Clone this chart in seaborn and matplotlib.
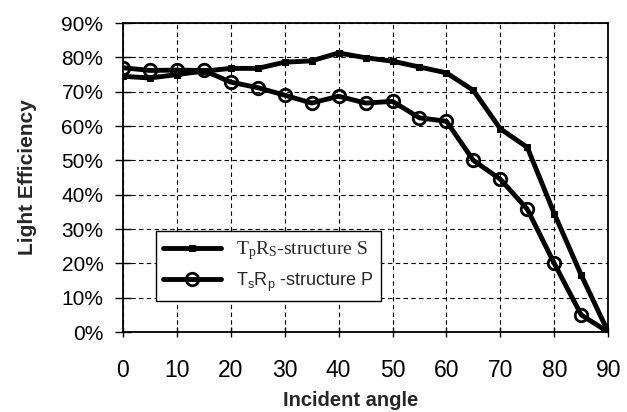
import matplotlib
matplotlib.use("Agg")
import matplotlib.pyplot as plt
import seaborn as sns
import pandas as pd
from matplotlib.ticker import PercentFormatter

# Data
angles = [0, 5, 10, 15, 20, 25, 30, 35, 40, 45, 50, 55, 60, 65, 70, 75, 80, 85, 90]
structure_s = [74.5, 74.0, 75.0, 76.0, 76.8, 76.8, 78.6, 79.0, 81.3, 79.9, 78.9, 77.2, 75.5, 70.4, 59.2, 53.8, 34.5, 16.6, 0.0]
structure_p = [77.0, 76.2, 76.3, 76.2, 72.8, 71.2, 69.0, 66.7, 68.7, 66.7, 67.2, 62.4, 61.4, 50.0, 44.5, 35.8, 20.0, 5.0, 0.0]
label_s = r"$\mathregular{T_pR_S}$-structure S"
label_p = r"$\mathregular{T_sR_p}$ -structure P"
x_ticks = list(range(0, 91, 10))
y_ticks = list(range(0, 91, 10))

sns.set_theme(style="white")
plt.rcParams["font.family"] = ["Liberation Sans", "DejaVu Sans"]

fig = plt.figure(figsize=(6.27, 4.12), dpi=100)
ax = fig.add_axes([0.196, 0.194, 0.774, 0.750])

df_s = pd.DataFrame({"angle": angles, "eff": structure_s})
df_p = pd.DataFrame({"angle": angles, "eff": structure_p})

sns.lineplot(data=df_s, x="angle", y="eff", ax=ax, color="black", linewidth=3.5,
             marker="s", markersize=5, markerfacecolor="black", markeredgecolor="black",
             label=label_s, zorder=4)
sns.lineplot(data=df_p, x="angle", y="eff", ax=ax, color="black", linewidth=3.5,
             marker="o", markersize=9, markerfacecolor="none", markeredgecolor="black",
             markeredgewidth=2.0, label=label_p, zorder=3)

ax.set_xlim(0, 90)
ax.set_ylim(0, 90)
ax.set_xticks(x_ticks)
ax.set_yticks(y_ticks)
ax.yaxis.set_major_formatter(PercentFormatter(decimals=0))
ax.grid(True, color="black", linestyle=(0, (4, 3)), linewidth=0.8)
for s in ax.spines.values():
    s.set_color("black")
    s.set_linewidth(1.3)
    s.set_visible(True)

ax.tick_params(axis="x", which="both", direction="inout", length=7, width=1, pad=16,
               labelsize=16.5, colors="black", bottom=True)
ax.tick_params(axis="y", which="both", direction="inout", length=12, width=1, pad=8,
               labelsize=15, colors="black", left=True)

ax.set_xlabel("Incident angle", fontsize=14.5, fontweight="bold")
ax.xaxis.set_label_coords(0.47, -0.19)
ax.set_ylabel("Light Efficiency", fontsize=15, fontweight="bold")
ax.yaxis.set_label_coords(-0.178, 0.5)

plt.rcParams["mathtext.fontset"] = "stix"
leg = ax.legend(loc="upper left", bbox_to_anchor=(0.05, 0.355), frameon=True,
                fancybox=False, edgecolor="black", framealpha=1, fontsize=13,
                handlelength=3.2, borderpad=0.4, labelspacing=0.5)
leg.get_frame().set_linewidth(1.0)
txts = leg.get_texts()
txts[0].set_family(["Liberation Serif", "DejaVu Serif"])
txts[0].set_fontsize(14)
txts[1].set_family(["Liberation Sans", "DejaVu Sans"])
txts[1].set_fontsize(13)

fig.savefig("out.png", dpi=100)
